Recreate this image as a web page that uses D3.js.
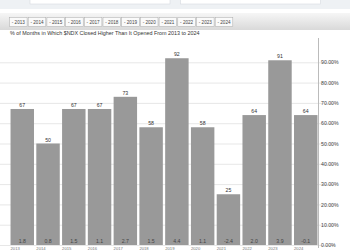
<!DOCTYPE html>
<html>
<head>
<meta charset="utf-8">
<script src="https://cdn.jsdelivr.net/npm/d3@7/dist/d3.min.js"></script>
<style>
  body { margin: 0; background: #fff; font-family: "Liberation Sans", Arial, sans-serif; }
  svg { display: block; }
</style>
</head>
<body>
<div id="chart"></div>
<script>
// data
var years = ["2013","2014","2015","2016","2017","2018","2019","2020","2021","2022","2023","2024"]
var pctUp = [67, 50, 67, 67, 73, 58, 92, 58, 25, 64, 91, 64]
var avgChange = ["1.8","0.8","1.5","1.1","2.7","1.5","4.4","1.1","-2.4","2.0","3.9","-0.1"]
var yTicks = [0, 10, 20, 30, 40, 50, 60, 70, 80, 90]
var title = "% of Months in Which $NDX Closed Higher Than It Opened From 2013 to 2024"

var W = 350, H = 250
var svg = d3.select("#chart").append("svg").attr("width", W).attr("height", H)

// page header strip
svg.append("rect").attr("x", 0).attr("y", 0).attr("width", W).attr("height", 9).attr("fill", "#eef1f4")
svg.append("rect").attr("x", 30).attr("y", -3).attr("width", 140).attr("height", 7)
  .attr("fill", "#fff").attr("stroke", "#d6dadf").attr("stroke-width", 0.6)
svg.append("rect").attr("x", 180.5).attr("y", -3).attr("width", 140).attr("height", 7)
  .attr("fill", "#fff").attr("stroke", "#d6dadf").attr("stroke-width", 0.6)

// toolbar gradient
var defs = svg.append("defs")
var grad = defs.append("linearGradient").attr("id", "tb").attr("x1", 0).attr("y1", 0).attr("x2", 0).attr("y2", 1)
grad.append("stop").attr("offset", "0%").attr("stop-color", "#f6f6f6")
grad.append("stop").attr("offset", "100%").attr("stop-color", "#d9d9d9")
svg.append("rect").attr("x", 0).attr("y", 13).attr("width", W).attr("height", 17).attr("fill", "url(#tb)")

var btn = svg.selectAll(".btn").data(years).enter().append("g")
  .attr("class", "btn")
  .attr("transform", function(d, i){ return "translate(" + (9.5 + i * 18.7) + ",17.5)" })
btn.append("rect").attr("width", 17.6).attr("height", 9)
  .attr("fill", "#fafafa").attr("stroke", "#aaa").attr("stroke-width", 0.5)
btn.append("text").attr("x", 8.8).attr("y", 6.3).attr("text-anchor", "middle")
  .attr("font-size", 4.6).attr("fill", "#444")
  .text(function(d){ return "- " + d })

// title
svg.append("text").attr("x", 10).attr("y", 35).attr("font-size", 5.4).attr("fill", "#333").text(title)

// scales
var x = d3.scaleBand().domain(years).range([9.5, 318.5]).paddingInner(0.09).paddingOuter(0.04)
var y = d3.scaleLinear().domain([0, 100]).range([245, 42])

// gridlines
svg.append("g").selectAll("line").data(yTicks).enter().append("line")
  .attr("x1", 0).attr("x2", 335)
  .attr("y1", function(d){ return y(d) + 0.5 }).attr("y2", function(d){ return y(d) + 0.5 })
  .attr("stroke", "#ddd").attr("stroke-width", 0.7)

// right axis
var axis = svg.append("g").attr("transform", "translate(318,0)")
  .call(d3.axisRight(y).tickValues(yTicks).tickSize(0).tickPadding(3)
    .tickFormat(function(d){ return d.toFixed(2) + "%" }))
axis.select(".domain").attr("stroke", "#bbb").attr("stroke-width", 1)
  .attr("d", "M0.5,38V248")
axis.selectAll("text").attr("font-size", 5.2).attr("fill", "#444")
  .attr("font-family", "Liberation Sans, Arial, sans-serif")

// bars
var bars = svg.append("g")
bars.selectAll("rect").data(years).enter().append("rect")
  .attr("x", function(d){ return x(d) })
  .attr("width", x.bandwidth())
  .attr("y", function(d, i){ return y(pctUp[i]) })
  .attr("height", function(d, i){ return y(0) - y(pctUp[i]) })
  .attr("fill", "#999")

// value labels on top
bars.selectAll(".top").data(years).enter().append("text").attr("class", "top")
  .attr("x", function(d){ return x(d) + x.bandwidth() / 2 })
  .attr("y", function(d, i){ return y(pctUp[i]) - 2 })
  .attr("text-anchor", "middle").attr("font-size", 5.2).attr("fill", "#333")
  .text(function(d, i){ return pctUp[i] })

// avg change labels inside bottom
bars.selectAll(".bot").data(years).enter().append("text").attr("class", "bot")
  .attr("x", function(d){ return x(d) + x.bandwidth() / 2 })
  .attr("y", 242.5)
  .attr("text-anchor", "middle").attr("font-size", 5.2).attr("fill", "#444")
  .text(function(d, i){ return avgChange[i] })

// x axis labels
svg.append("g").selectAll("text").data(years).enter().append("text")
  .attr("x", function(d){ return x(d) })
  .attr("y", 249.6)
  .attr("font-size", 4.2).attr("fill", "#777")
  .text(function(d){ return d })
</script>
</body>
</html>
